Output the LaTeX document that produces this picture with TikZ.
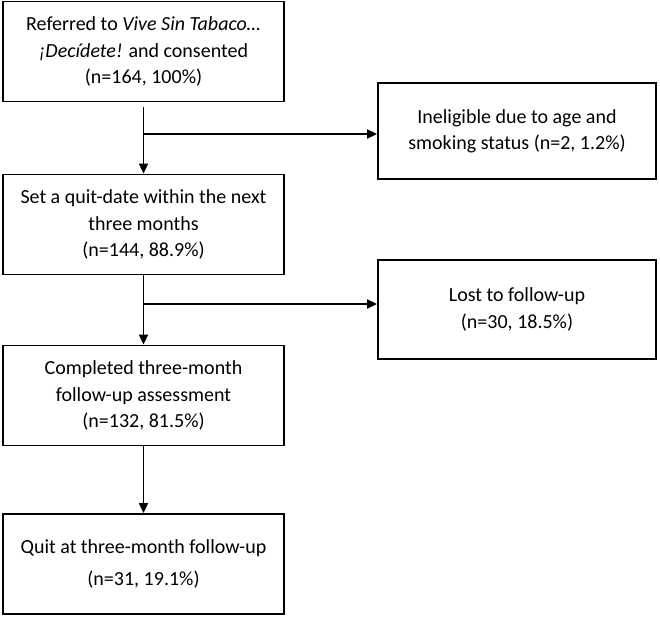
\documentclass[tikz,border=0pt]{standalone}
\usepackage{fontspec}
\setmainfont{Carlito}
\usetikzlibrary{arrows.meta,calc,positioning}

\begin{document}
\begin{tikzpicture}[x=0.5pt, y=-0.5pt,
  box/.style={draw, line width=0.9pt, align=center, font=\fontsize{10pt}{13.2pt}\selectfont, minimum width=140.5pt, minimum height=50pt, inner sep=2pt},
  arr/.style={-{Triangle[length=5pt, width=4.5pt]}, line width=0.9pt}]
\useasboundingbox (0,0) rectangle (660,617);
\node[box] (ref) at (143.5,51.5) {Referred to \textit{Vive Sin Tabaco…}\\\textit{¡Decídete!} and consented\\(n=164, 100\%)};
\node[box] (set) at (143.5,224.5) {Set a quit-date within the next\\three months\\(n=144, 88.9\%)};
\node[box] (comp) at (143.5,395.5) {Completed three-month\\follow-up assessment\\(n=132, 81.5\%)};
\node[box] (quit) at (143.5,564) {Quit at three-month follow-up\\[3pt](n=31, 19.1\%)};
\node[box, minimum width=139pt, minimum height=48pt] (inel) at (517,131) {Ineligible due to age and\\smoking status (n=2, 1.2\%)};
\node[box, minimum width=139pt, minimum height=49.5pt] (lost) at (517,309.5) {Lost to follow-up\\(n=30, 18.5\%)};
\coordinate (j1) at (143.5,134);
\coordinate (j2) at (143.5,304);
\draw[arr] ([yshift=-2.5pt]ref.south) -- (set.north);
\draw[arr] (j1) -- (j1 -| inel.west);
\draw[arr] (set.south) -- (comp.north);
\draw[arr] (j2) -- (j2 -| lost.west);
\draw[arr] (comp.south) -- (quit.north);
\end{tikzpicture}
\end{document}
